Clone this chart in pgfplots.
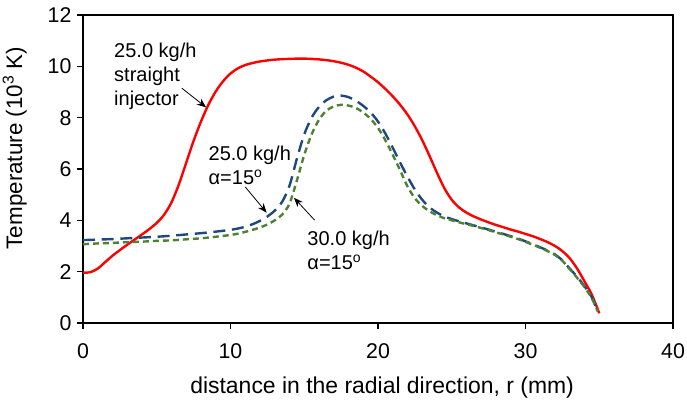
\documentclass[border=0pt]{standalone}
\usepackage{pgfplots}
\pgfplotsset{compat=1.18}
\usepackage{fontspec}
\setmainfont{Liberation Sans}
\usetikzlibrary{arrows.meta}

\definecolor{redline}{RGB}{255,0,0}
\definecolor{blueline}{RGB}{31,73,125}
\definecolor{greenline}{RGB}{79,129,51}

\begin{document}
\begin{tikzpicture}
\begin{axis}[
  scale only axis,
  width=442.5pt, height=231pt,
  xmin=0, xmax=40, ymin=0, ymax=12,
  xtick={0,10,20,30,40},
  ytick={0,2,4,6,8,10,12},
  tick align=outside,
  tick pos=left,
  major tick length=4.5pt,
  axis line style={line width=1pt},
  tick style={line width=0.8pt, black},
  /pgf/number format/assume math mode=true,
  ticklabel style={font=\fontsize{16}{19}\selectfont},
  xticklabel style={anchor=north, inner sep=0pt, yshift=-11pt},
  yticklabel style={anchor=east, inner sep=0pt, xshift=-4pt},
  xlabel={distance in the radial direction, r (mm)},
  ylabel={Temperature (10\textsuperscript{3} K)},
  xlabel style={font=\fontsize{17.2}{19}\selectfont, at={(axis description cs:0.507,-0.1753)}, anchor=north, inner sep=0pt},
  ylabel style={font=\fontsize{16.8}{19}\selectfont, at={(axis description cs:-0.0949,0.568)}, anchor=south, inner sep=0pt},
  clip=false,
]
\coordinate (O) at (rel axis cs:0,0);
\coordinate (TR) at (rel axis cs:1,1);
% straight injector, 25.0 kg/h
\addplot[color=redline, line width=1.8pt, smooth] coordinates {
(0,1.96) (0.5,1.98) (1,2.12) (1.5,2.37) (2,2.62) (2.5,2.84) (3,3.05) (3.5,3.25)
(4,3.45) (4.5,3.66) (5,3.9) (5.5,4.22) (6,4.7) (6.5,5.4) (7,6.25) (7.5,7.1)
(8,7.85) (8.5,8.5) (9,9.02) (9.5,9.42) (10,9.72) (10.5,9.92) (11,10.05)
(11.5,10.13) (12,10.19) (12.5,10.23) (13,10.26) (13.5,10.28) (14,10.29)
(14.5,10.3) (15,10.3) (15.5,10.29) (16,10.27) (16.5,10.24) (17,10.2)
(17.5,10.14) (18,10.06) (18.5,9.95) (19,9.8) (19.5,9.6) (20,9.38) (20.5,9.12)
(21,8.83) (21.5,8.5) (22,8.12) (22.5,7.66) (23,7.12) (23.5,6.5) (24,5.85)
(24.5,5.25) (25,4.8) (25.5,4.5) (26,4.3) (26.5,4.15) (27,4.03) (27.5,3.92)
(28,3.82) (28.5,3.73) (29,3.64) (29.5,3.56) (30,3.47) (30.5,3.38) (31,3.27)
(31.5,3.15) (32,3.0) (32.5,2.8) (33,2.52) (33.5,2.12) (34,1.62) (34.5,1.1)
(35,0.38)
};
% alpha = 15 deg, 25.0 kg/h
\addplot[color=blueline, line width=1.8pt, smooth, dash pattern=on 9pt off 5pt] coordinates {
(0,3.23) (1,3.25) (2,3.27) (3,3.3) (4,3.33) (5,3.36) (6,3.4) (7,3.45) (8,3.5)
(9,3.56) (10,3.63) (10.5,3.68) (11,3.75) (11.5,3.85) (12,3.98) (12.5,4.15)
(13,4.38) (13.5,4.72) (14,5.35) (14.5,6.4) (15,7.35) (15.5,8.0) (16,8.42)
(16.5,8.68) (17,8.82) (17.5,8.86) (18,8.8) (18.5,8.66) (19,8.46) (19.5,8.2)
(20,7.85) (20.5,7.38) (21,6.83) (21.5,6.25) (22,5.7) (22.5,5.2) (23,4.8)
(23.5,4.5) (24,4.3) (24.5,4.15) (25,4.05) (25.5,3.96) (26,3.88) (26.5,3.8)
(27,3.72) (27.5,3.64) (28,3.55) (28.5,3.47) (29,3.38) (29.5,3.29) (30,3.18)
(30.5,3.07) (31,2.95) (31.5,2.82) (32,2.67) (32.5,2.44) (33,2.12) (33.5,1.8)
(34,1.43) (34.5,1.0) (34.9,0.45)
};
% alpha = 15 deg, 30.0 kg/h
\addplot[color=greenline, line width=1.8pt, smooth, dash pattern=on 4.5pt off 3pt] coordinates {
(0,3.07) (1,3.1) (2,3.12) (3,3.15) (4,3.17) (5,3.2) (6,3.22) (7,3.26) (8,3.3)
(9,3.36) (10,3.43) (10.5,3.48) (11,3.55) (11.5,3.63) (12,3.72) (12.5,3.84)
(13,4.0) (13.5,4.22) (14,4.65) (14.5,5.55) (15,6.55) (15.5,7.35) (16,7.92)
(16.5,8.27) (17,8.44) (17.5,8.5) (18,8.47) (18.5,8.38) (19,8.2) (19.5,7.95)
(20,7.6) (20.5,7.12) (21,6.55) (21.5,5.95) (22,5.32) (22.5,4.86) (23,4.56)
(23.5,4.35) (24,4.2) (24.5,4.08) (25,4.0) (25.5,3.92) (26,3.85) (26.5,3.78)
(27,3.7) (27.5,3.62) (28,3.53) (28.5,3.45) (29,3.36) (29.5,3.27) (30,3.16)
(30.5,3.05) (31,2.93) (31.5,2.8) (32,2.65) (32.5,2.42) (33,2.1) (33.5,1.76)
(34,1.4) (34.5,0.96) (34.9,0.45)
};

\node[anchor=west, align=left, inner sep=0pt, font=\fontsize{15}{18}\selectfont]
  at (axis cs:2.1,9.6) {25.0 kg/h\\straight\\injector};
\draw[-{Stealth[length=7pt,width=5.5pt]}, line width=0.6pt] (axis cs:6.7,9.15) -- (axis cs:8.35,8.4);

\node[anchor=west, align=left, inner sep=0pt, font=\fontsize{15}{18}\selectfont]
  at (axis cs:8.5,6.15) {25.0 kg/h\\α=15\textsuperscript{o}};
\draw[-{Stealth[length=7pt,width=5.5pt]}, line width=0.6pt] (axis cs:11.0,5.3) -- (axis cs:12.45,4.3);

\node[anchor=west, align=left, inner sep=0pt, font=\fontsize{15}{18}\selectfont]
  at (axis cs:15.2,2.85) {30.0 kg/h\\α=15\textsuperscript{o}};
\draw[-{Stealth[length=7pt,width=5.5pt]}, line width=0.6pt] (axis cs:15.7,4.01) -- (axis cs:14.3,4.88);
\end{axis}
\pgfresetboundingbox
\path[use as bounding box] ([shift={(-62.25pt,-57.75pt)}]O) rectangle ([shift={(10.5pt,11.25pt)}]TR);
\end{tikzpicture}
\end{document}
